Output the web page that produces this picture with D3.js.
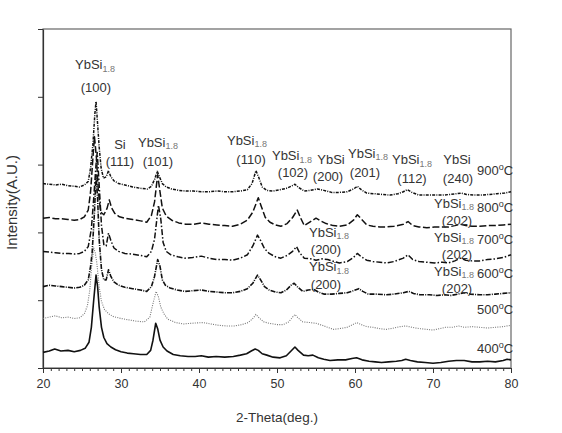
<!DOCTYPE html>
<html>
<head>
<meta charset="utf-8">
<script src="https://cdn.jsdelivr.net/npm/d3@7"></script>
<style>
  body { margin: 0; background: #fff; }
  text { font-family: "Liberation Sans", Arial, sans-serif; fill: #333; }
</style>
</head>
<body>
<svg id="chart" width="562" height="433"></svg>
<script>
// XRD patterns, [2theta, stacked intensity (a.u.)]
const t400 = [[20,0.23],[20.8,0.25],[21.5,0.28],[22.3,0.25],[23.2,0.26],[24,0.24],[24.8,0.26],[25.4,0.29],[25.9,0.38],[26.2,0.6],[26.5,1.0],[26.8,1.37],[27.0,1.2],[27.2,0.9],[27.5,0.6],[27.8,0.45],[28.2,0.36],[28.7,0.31],[29.3,0.27],[30,0.24],[30.8,0.22],[31.6,0.21],[32.5,0.2],[33.3,0.2],[33.8,0.26],[34.1,0.41],[34.45,0.66],[34.7,0.58],[35.0,0.41],[35.4,0.31],[35.9,0.25],[36.7,0.2],[37.6,0.18],[38.6,0.17],[39.5,0.17],[40.3,0.18],[41.2,0.16],[42.2,0.17],[43.3,0.16],[44.4,0.17],[45.3,0.19],[46.1,0.21],[46.7,0.25],[47.2,0.28],[47.6,0.26],[48.1,0.21],[48.7,0.19],[49.5,0.16],[50.4,0.15],[51.2,0.18],[51.8,0.25],[52.3,0.31],[52.7,0.26],[53.4,0.19],[54.0,0.18],[54.6,0.19],[55.3,0.15],[56.0,0.13],[56.8,0.11],[57.8,0.12],[58.8,0.12],[59.6,0.14],[60.2,0.15],[60.9,0.12],[61.8,0.1],[62.6,0.09],[63.4,0.08],[64.3,0.09],[65.3,0.1],[66.0,0.11],[66.5,0.13],[67.1,0.11],[68.0,0.09],[69.0,0.08],[70.0,0.07],[71.0,0.08],[72.0,0.1],[73.0,0.11],[74.0,0.11],[75.0,0.09],[76.0,0.09],[77.0,0.1],[78.0,0.09],[79.0,0.11],[79.5,0.13],[80,0.12]];
const t500 = [[20,0.73],[20.8,0.75],[21.6,0.77],[22.4,0.74],[23.2,0.75],[24.0,0.73],[24.7,0.74],[25.3,0.8],[25.7,0.92],[26.0,1.15],[26.2,1.45],[26.5,1.77],[26.7,1.7],[26.9,1.55],[27.2,1.2],[27.5,0.98],[27.9,0.86],[28.4,0.8],[29.0,0.76],[30,0.73],[31,0.71],[32,0.69],[33,0.68],[33.7,0.75],[34.1,0.95],[34.5,1.13],[34.8,1.05],[35.1,0.9],[35.5,0.8],[36,0.72],[37,0.67],[38,0.65],[39,0.66],[40.5,0.67],[41.5,0.65],[42.5,0.63],[43.5,0.62],[44.5,0.62],[45.5,0.64],[46.3,0.67],[46.9,0.73],[47.3,0.79],[47.7,0.74],[48.3,0.68],[49,0.66],[50,0.64],[50.8,0.64],[51.5,0.68],[52.0,0.75],[52.3,0.79],[52.7,0.74],[53.3,0.68],[54.2,0.67],[55,0.66],[55.8,0.63],[56.5,0.6],[57.2,0.57],[58,0.58],[59,0.6],[59.7,0.64],[60.2,0.67],[60.8,0.64],[61.5,0.61],[62.3,0.6],[63.2,0.58],[64,0.57],[65,0.59],[65.8,0.61],[66.5,0.62],[67.3,0.6],[68.3,0.58],[69.2,0.57],[70,0.56],[70.8,0.58],[71.6,0.6],[72.5,0.6],[73.3,0.62],[74,0.6],[75,0.61],[76,0.6],[77,0.59],[78,0.6],[79,0.61],[80,0.63]];
const t600 = [[20,1.2],[20.8,1.22],[21.6,1.21],[22.4,1.2],[23.2,1.19],[24,1.18],[24.7,1.19],[25.3,1.22],[25.8,1.3],[26.1,1.5],[26.3,1.7],[26.6,2.3],[26.8,2.85],[27.0,2.5],[27.2,1.9],[27.5,1.45],[27.8,1.3],[28.1,1.3],[28.4,1.45],[28.7,1.35],[29.1,1.27],[29.7,1.22],[30.5,1.19],[31.5,1.17],[32.5,1.15],[33.3,1.13],[33.9,1.2],[34.3,1.35],[34.7,1.6],[35.0,1.5],[35.3,1.3],[35.7,1.22],[36.3,1.18],[37.2,1.15],[38.2,1.13],[39.2,1.14],[40.3,1.15],[41.3,1.13],[42.3,1.12],[43.3,1.11],[44.3,1.11],[45.3,1.13],[46.2,1.17],[46.9,1.25],[47.5,1.37],[47.9,1.3],[48.4,1.2],[49,1.15],[49.8,1.12],[50.5,1.11],[51.2,1.15],[51.8,1.22],[52.2,1.25],[52.6,1.2],[53.3,1.13],[54.0,1.15],[54.7,1.16],[55.3,1.12],[56,1.09],[57,1.09],[58,1.1],[59,1.11],[59.8,1.14],[60.5,1.17],[61.0,1.13],[61.7,1.09],[62.8,1.09],[64,1.08],[65,1.09],[66.2,1.11],[66.9,1.13],[67.5,1.1],[68.3,1.08],[69.5,1.08],[70.5,1.07],[71.5,1.08],[72.3,1.07],[73.2,1.09],[74,1.11],[74.8,1.09],[76,1.08],[77,1.08],[78,1.09],[79,1.1],[80,1.11]];
const t700 = [[20,1.72],[20.8,1.71],[21.6,1.7],[22.5,1.69],[23.3,1.69],[24,1.68],[24.7,1.69],[25.3,1.72],[25.8,1.79],[26.2,2.05],[26.5,2.5],[26.8,3.0],[26.95,3.18],[27.2,2.7],[27.5,2.1],[27.8,1.82],[28.1,1.8],[28.4,1.99],[28.7,1.88],[29.1,1.77],[29.7,1.72],[30.5,1.69],[31.5,1.68],[32.5,1.66],[33.3,1.64],[33.9,1.72],[34.3,1.9],[34.8,2.4],[35.1,2.2],[35.4,1.85],[35.8,1.72],[36.4,1.67],[37.3,1.64],[38.2,1.62],[39.2,1.63],[40.3,1.65],[41.3,1.62],[42.3,1.6],[43.3,1.6],[44.3,1.59],[45.3,1.62],[46.2,1.67],[46.9,1.8],[47.5,1.96],[47.9,1.88],[48.4,1.76],[49,1.69],[49.8,1.64],[50.5,1.62],[51.3,1.66],[52.0,1.72],[52.5,1.79],[52.9,1.7],[53.5,1.62],[54.3,1.61],[55,1.59],[55.8,1.61],[56.5,1.6],[57.3,1.57],[58,1.55],[59,1.57],[59.8,1.63],[60.3,1.69],[60.8,1.64],[61.5,1.59],[62.3,1.57],[63.2,1.56],[64,1.55],[65,1.57],[66.2,1.62],[66.8,1.67],[67.4,1.6],[68.2,1.57],[69.2,1.56],[70.2,1.55],[71.2,1.56],[72,1.55],[72.8,1.58],[73.5,1.62],[74.2,1.59],[75,1.58],[76,1.58],[77,1.6],[78,1.61],[79,1.63],[80,1.67]];
const t800 = [[20,2.21],[20.8,2.22],[21.6,2.2],[22.4,2.2],[23.2,2.19],[24,2.18],[24.7,2.19],[25.3,2.23],[25.8,2.33],[26.1,2.6],[26.4,3.1],[26.6,3.41],[26.85,3.1],[27.1,2.6],[27.4,2.3],[27.8,2.26],[28.2,2.35],[28.5,2.48],[28.8,2.36],[29.2,2.28],[29.8,2.23],[30.5,2.21],[31.5,2.19],[32.5,2.17],[33.3,2.15],[33.9,2.25],[34.3,2.45],[34.7,2.85],[35.0,2.6],[35.3,2.36],[35.8,2.24],[36.5,2.18],[37.4,2.14],[38.3,2.12],[39.3,2.12],[40.3,2.14],[41.3,2.12],[42.3,2.11],[43.3,2.1],[44.3,2.09],[45.3,2.12],[46.2,2.18],[46.9,2.3],[47.6,2.51],[48.0,2.38],[48.5,2.22],[49.1,2.15],[49.8,2.11],[50.5,2.09],[51.3,2.13],[52.0,2.22],[52.6,2.33],[53.0,2.22],[53.5,2.1],[54.3,2.16],[55,2.21],[55.6,2.17],[56.3,2.13],[57.2,2.1],[58,2.09],[59,2.11],[59.8,2.18],[60.3,2.26],[60.8,2.2],[61.5,2.11],[62.3,2.09],[63.2,2.08],[64,2.08],[65,2.09],[66.2,2.12],[66.8,2.16],[67.4,2.1],[68.2,2.08],[69.2,2.07],[70.2,2.08],[71.2,2.08],[72,2.08],[72.8,2.1],[73.5,2.12],[74.2,2.1],[75,2.09],[76,2.09],[77,2.1],[78,2.1],[79,2.11],[80,2.12]];
const t900 = [[20,2.72],[20.8,2.71],[21.6,2.7],[22.4,2.71],[23.2,2.69],[24,2.68],[24.7,2.67],[25.3,2.7],[25.8,2.75],[26.1,2.95],[26.4,3.3],[26.65,3.75],[26.8,3.93],[27.0,3.6],[27.2,3.26],[27.45,2.95],[27.75,2.8],[28.1,2.82],[28.4,2.91],[28.7,2.82],[29.1,2.76],[29.7,2.72],[30.5,2.7],[31.5,2.67],[32.5,2.65],[33.4,2.64],[33.9,2.68],[34.3,2.78],[34.65,2.9],[35.0,2.8],[35.3,2.72],[35.8,2.67],[36.5,2.64],[37.4,2.62],[38.3,2.61],[39.3,2.61],[40.3,2.6],[41.3,2.6],[42.3,2.61],[43.3,2.6],[44.3,2.6],[45.3,2.61],[46.2,2.63],[46.8,2.72],[47.3,2.91],[47.7,2.8],[48.1,2.67],[48.7,2.62],[49.5,2.61],[50.4,2.63],[51.2,2.65],[51.8,2.68],[52.3,2.71],[52.8,2.66],[53.5,2.61],[54.3,2.62],[55.2,2.64],[56,2.62],[57,2.59],[58,2.59],[59,2.6],[59.8,2.64],[60.3,2.68],[60.8,2.63],[61.5,2.58],[62.5,2.57],[63.5,2.56],[64.5,2.55],[65.5,2.57],[66.2,2.6],[66.7,2.63],[67.3,2.59],[68.2,2.55],[69.2,2.55],[70.2,2.55],[71.2,2.55],[72.2,2.56],[73,2.57],[73.6,2.58],[74.3,2.56],[75.2,2.55],[76.2,2.55],[77.2,2.56],[78.2,2.57],[79.2,2.58],[80,2.6]];

const temps = ["400", "500", "600", "700", "800", "900"];
const xTicks = [20, 30, 40, 50, 60, 70, 80];

// peak labels: [formula, subscript, 2theta, intensity]
const peakLabels = [
  ["YbSi", "1.8", 26.67, 4.47], ["(100)", "", 26.79, 4.13],
  ["Si", "", 29.87, 3.30], ["(111)", "", 29.87, 3.04],
  ["YbSi", "1.8", 34.74, 3.33], ["(101)", "", 34.74, 3.04],
  ["YbSi", "1.8", 46.15, 3.36], ["(110)", "", 46.67, 3.07],
  ["YbSi", "1.8", 51.92, 3.13], ["(102)", "", 52.05, 2.89],
  ["YbSi", "", 56.92, 3.08], ["(200)", "", 56.54, 2.83],
  ["YbSi", "1.8", 61.67, 3.17], ["(201)", "", 61.28, 2.88],
  ["YbSi", "1.8", 67.31, 3.07], ["(112)", "", 67.31, 2.79],
  ["YbSi", "", 73.08, 3.07], ["(240)", "", 73.21, 2.80],
  ["YbSi", "1.8", 72.69, 2.43], ["(202)", "", 73.08, 2.18],
  ["YbSi", "1.8", 72.69, 1.93], ["(202)", "", 73.08, 1.68],
  ["YbSi", "1.8", 72.69, 1.43], ["(202)", "", 73.08, 1.17],
  ["YbSi", "1.8", 56.67, 2.00], ["(200)", "", 56.28, 1.75],
  ["YbSi", "1.8", 56.67, 1.49], ["(200)", "", 56.28, 1.23]
];
const tempLabelY = [0.29, 0.86, 1.40, 1.89, 2.37, 2.91];

const series = [t400, t500, t600, t700, t800, t900];
const styles = [
  { stroke: "#111", width: 1.6, dash: null },
  { stroke: "#777", width: 1.1, dash: "1,1.3" },
  { stroke: "#111", width: 1.6, dash: "5,1.2,1,1.2" },
  { stroke: "#111", width: 1.5, dash: "6,2,1.5,2" },
  { stroke: "#111", width: 1.5, dash: "7,2.5" },
  { stroke: "#111", width: 1.5, dash: "3,1.2,1,1.2" }
];

const svg = d3.select("#chart");
const margin = { left: 43, right: 51, top: 29, bottom: 65 };
const width = 562, height = 433;

const x = d3.scaleLinear().domain([20, 80]).range([margin.left, width - margin.right]);
const y = d3.scaleLinear().domain([0, 5]).range([height - margin.bottom, margin.top]);

// frame
svg.append("rect")
  .attr("x", x(20)).attr("y", y(5))
  .attr("width", x(80) - x(20)).attr("height", y(0) - y(5))
  .attr("fill", "none").attr("stroke", "#666").attr("stroke-width", 1.2);

// minor ticks
svg.append("g")
  .attr("transform", `translate(0,${y(0)})`)
  .call(d3.axisBottom(x).ticks(60).tickSize(3).tickFormat("").tickSizeOuter(0))
  .call(g => g.select(".domain").remove())
  .selectAll("line").attr("stroke", "#333");

let xAxis = svg.append("g")
  .attr("transform", `translate(0,${y(0)})`)
  .call(d3.axisBottom(x).tickValues(xTicks).tickSize(5).tickSizeOuter(0).tickPadding(6));
xAxis.select(".domain").attr("stroke", "#333").attr("stroke-width", 1.2);
xAxis.selectAll("line").attr("stroke", "#333");
xAxis.selectAll("text").style("font-size", "12.5px").attr("fill", "#333");

let yAxis = svg.append("g")
  .attr("transform", `translate(${x(20)},0)`)
  .call(d3.axisLeft(y).ticks(5).tickSize(5).tickSizeOuter(0).tickFormat(""));
yAxis.select(".domain").attr("stroke", "#333").attr("stroke-width", 1.2);
yAxis.selectAll("line").attr("stroke", "#333");

// traces
let line = d3.line().x(d => x(d[0])).y(d => y(d[1]));
svg.append("g").selectAll("path")
  .data(series)
  .join("path")
  .attr("d", line)
  .attr("fill", "none")
  .attr("stroke", (d, i) => styles[i].stroke)
  .attr("stroke-width", (d, i) => styles[i].width)
  .attr("stroke-dasharray", (d, i) => styles[i].dash)
  .attr("stroke-linejoin", "round");

// peak labels
let lbl = svg.append("g").selectAll("text")
  .data(peakLabels)
  .join("text")
  .attr("x", d => x(d[2]))
  .attr("y", d => y(d[3]) + 4.5)
  .attr("text-anchor", "middle")
  .style("font-size", "13px");
lbl.append("tspan").text(d => d[0]);
lbl.filter(d => d[1]).append("tspan")
  .attr("dy", 2.5).style("font-size", "9px").attr("fill", "#777")
  .text(d => d[1]);

// temperature labels
let tl = svg.append("g").selectAll("text")
  .data(temps)
  .join("text")
  .attr("x", x(75.64))
  .attr("y", (d, i) => y(tempLabelY[i]) + 4.5)
  .style("font-size", "13px");
tl.append("tspan").text(d => d);
tl.append("tspan").attr("dy", -5).style("font-size", "9px").text("o");
tl.append("tspan").attr("dy", 5).text("C");

// axis titles
svg.append("text")
  .attr("x", (x(20) + x(80)) / 2)
  .attr("y", 422)
  .attr("text-anchor", "middle")
  .style("font-size", "13.5px")
  .text("2-Theta(deg.)");

svg.append("text")
  .attr("transform", `translate(17,${(y(0) + y(5)) / 2 + 4}) rotate(-90)`)
  .attr("text-anchor", "middle")
  .style("font-size", "15px")
  .text("Intensity(A.U.)");
</script>
</body>
</html>
